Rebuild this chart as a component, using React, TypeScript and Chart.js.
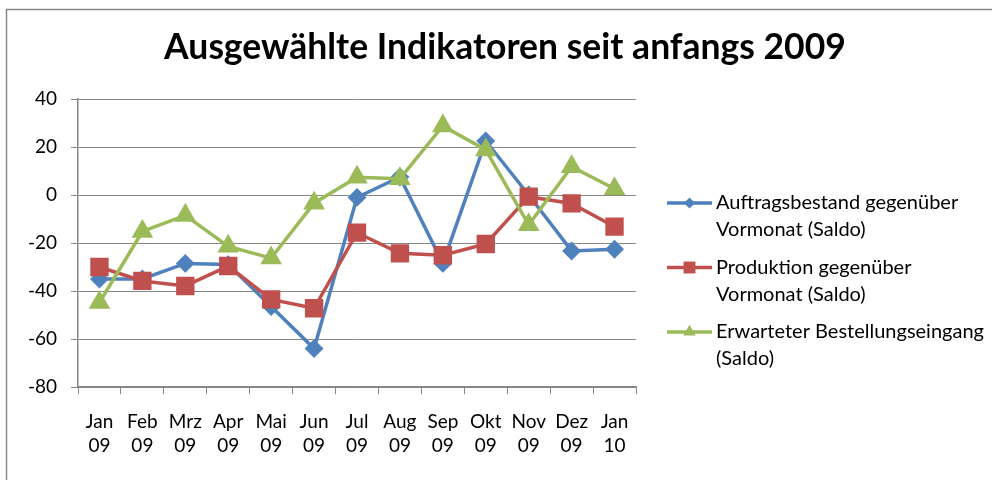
import { useEffect, useRef } from "react";
import { Chart, registerables } from "chart.js";
import { drawPoint } from "chart.js/helpers";

Chart.register(...registerables);

const chartTitle = "Ausgewählte Indikatoren seit anfangs 2009";
const months = ["Jan", "Feb", "Mrz", "Apr", "Mai", "Jun", "Jul", "Aug", "Sep", "Okt", "Nov", "Dez", "Jan"];
const years = ["09", "09", "09", "09", "09", "09", "09", "09", "09", "09", "09", "09", "10"];
const auftragsbestand = [-35, -35, -28.5, -29, -46.5, -64, -1, 7.5, -28.5, 22.5, 0, -23.3, -22.6];
const produktion = [-30, -35.8, -37.9, -29.6, -43.5, -47.2, -15.7, -24.3, -25.1, -20.4, -0.7, -3.5, -13.2];
const bestellungseingang = [-44.8, -15.2, -8.5, -21.4, -26.3, -3.4, 7.4, 6.8, 28.8, 18.8, -12.4, 11.8, 2.6];
const seriesNames = [
  ["Auftragsbestand gegenüber", "Vormonat (Saldo)"],
  ["Produktion gegenüber", "Vormonat (Saldo)"],
  ["Erwarteter Bestellungseingang", "(Saldo)"],
];
const yMin = -80;
const yMax = 40;
const yStep = 20;

const BLUE = "#4F81BD";
const RED = "#C0504D";
const GREEN = "#9BBB59";
const GRID = "#868686";
const FONT = "Lato, 'Noto Sans', sans-serif";

const decorPlugin = {
  id: "decor",
  beforeDraw(chart: any) {
    const { ctx, width, height } = chart;
    ctx.save();
    ctx.fillStyle = "#ffffff";
    ctx.fillRect(0, 0, width, height);
    ctx.strokeStyle = GRID;
    ctx.lineWidth = 1.5;
    ctx.beginPath();
    ctx.moveTo(6.5, height + 5);
    ctx.lineTo(6.5, 9.5);
    ctx.lineTo(width + 5, 9.5);
    ctx.stroke();
    ctx.restore();
  },
  afterDraw(chart: any) {
    const { ctx, width, chartArea } = chart;
    ctx.save();
    // title
    ctx.fillStyle = "#000000";
    ctx.font = `bold 35.5px ${FONT}`;
    ctx.textAlign = "center";
    ctx.textBaseline = "middle";
    ctx.fillText(chartTitle, width / 2 + 9, 48);

    // legend
    ctx.font = `20px ${FONT}`;
    ctx.textAlign = "left";
    const x0 = chartArea.right + 31;
    let y = chartArea.top + 104;
    chart.data.datasets.forEach((ds: any, i: number) => {
      ctx.strokeStyle = ds.borderColor;
      ctx.lineWidth = 3.5;
      ctx.beginPath();
      ctx.moveTo(x0, y);
      ctx.lineTo(x0 + 45, y);
      ctx.stroke();
      ctx.fillStyle = ds.pointBackgroundColor;
      drawPoint(ctx, { pointStyle: ds.pointStyle, radius: ds.pointRadius * 0.8, rotation: 0, borderWidth: 0 }, x0 + 22.5, y);
      ctx.fillStyle = "#000000";
      seriesNames[i].forEach((line, j) => {
        ctx.fillText(line, x0 + 49, y + j * 27);
      });
      y += 64.5;
    });
    ctx.restore();
  },
};

export default function App() {
  const ref = useRef<HTMLCanvasElement>(null);
  useEffect(() => {
    if (!ref.current) return;
    const labels = months.map((m, i) => [m, years[i]]);
    const chart = new Chart(ref.current, {
      type: "line",
      data: {
        labels,
        datasets: [
          {
            label: seriesNames[0].join(" "),
            data: auftragsbestand,
            borderColor: BLUE,
            backgroundColor: BLUE,
            pointBackgroundColor: BLUE,
            pointBorderColor: BLUE,
            pointStyle: "rectRot",
            pointRadius: 7,
            borderWidth: 3.5,
            order: 3,
          },
          {
            label: seriesNames[1].join(" "),
            data: produktion,
            borderColor: RED,
            backgroundColor: RED,
            pointBackgroundColor: RED,
            pointBorderColor: RED,
            pointStyle: "rect",
            pointRadius: 10.5,
            borderWidth: 3.5,
            order: 2,
          },
          {
            label: seriesNames[2].join(" "),
            data: bestellungseingang,
            borderColor: GREEN,
            backgroundColor: GREEN,
            pointBackgroundColor: GREEN,
            pointBorderColor: GREEN,
            pointStyle: "triangle",
            pointRadius: 9,
            borderWidth: 3.5,
            order: 1,
          },
        ],
      },
      options: {
        responsive: false,
        animation: false,
        layout: { padding: { top: 99, right: 356, bottom: 0, left: 0 } },
        plugins: {
          legend: { display: false },
          title: { display: false },
          tooltip: { enabled: false },
        },
        scales: {
          x: {
            offset: true,
            grid: {
              offset: true,
              drawOnChartArea: false,
              tickLength: 7,
              color: GRID,
              lineWidth: 1,
            },
            border: { color: GRID, width: 1.5 },
            ticks: {
              color: "#000000",
              font: { family: FONT, size: 19, lineHeight: 1.25 },
              padding: 16,
              maxRotation: 0,
              autoSkip: false,
            },
            afterFit(scale: any) {
              scale.height = 93;
            },
          },
          y: {
            min: yMin,
            max: yMax,
            grid: { color: GRID, tickLength: 7, lineWidth: 1 },
            border: { color: GRID, width: 1.5 },
            ticks: {
              stepSize: yStep,
              color: "#000000",
              font: { family: FONT, size: 19 },
              padding: 14,
            },
            afterFit(scale: any) {
              scale.width = 78;
            },
          },
        },
      },
      plugins: [decorPlugin],
    });
    return () => chart.destroy();
  }, []);
  return (
    <div style={{ position: "fixed", left: 0, top: 0, width: 992, height: 480 }}>
      <canvas ref={ref} width={992} height={480} style={{ width: 992, height: 480, display: "block" }} />
    </div>
  );
}
